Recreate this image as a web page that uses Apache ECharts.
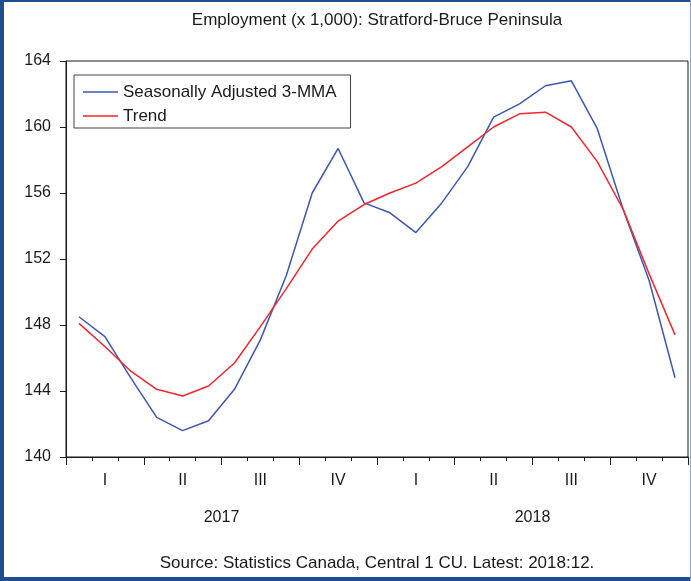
<!DOCTYPE html>
<html>
<head>
<meta charset="utf-8">
<title>Employment: Stratford-Bruce Peninsula</title>
<script src="https://cdn.jsdelivr.net/npm/echarts@6/dist/echarts.min.js"></script>
<style>
  html, body { margin: 0; padding: 0; background: #fff; }
  #chart { width: 691px; height: 581px; }
</style>
</head>
<body>
<div id="chart"></div>
<script>
// Monthly periods, 2017:01 to 2018:12
const years = ['2017', '2018'];
const monthNums = ['01', '02', '03', '04', '05', '06', '07', '08', '09', '10', '11', '12'];
const quarterLabels = ['I', 'II', 'III', 'IV'];

// Employment, thousands
const seasonallyAdjusted3MMA = [
  148.5, 147.3, 144.8, 142.4, 141.6, 142.2, 144.1, 147.1, 151.0, 156.0, 158.7, 155.4,
  154.8, 153.6, 155.4, 157.6, 160.6, 161.4, 162.5, 162.8, 159.9, 155.0, 150.7, 144.8
];
const trend = [
  148.1, 146.7, 145.2, 144.1, 143.7, 144.3, 145.7, 147.9, 150.2, 152.6, 154.3, 155.3,
  156.0, 156.6, 157.6, 158.8, 160.0, 160.8, 160.9, 160.0, 157.9, 155.0, 151.1, 147.4
];

const yMin = 140, yMax = 164, yStep = 4;

const categories = [];
years.forEach(y => monthNums.forEach(m => categories.push(y + ':' + m)));

const FONT = '"Liberation Sans", Arial, sans-serif';
const INK = '#1a1a1a';
const FRAME = '#1f4e8f';

const chart = echarts.init(document.getElementById('chart'), null, { renderer: 'canvas' });

const gridPos = { left: 66, right: 3, top: 61, bottom: 124 };
const plotCenterX = 66 + (691 - 66 - 3) / 2;

chart.setOption({
  animation: false,
  backgroundColor: '#fff',
  grid: Object.assign({ show: true, borderColor: INK, borderWidth: 1, backgroundColor: 'transparent' }, gridPos),
  legend: {
    orient: 'vertical',
    left: 74,
    top: 75,
    padding: [8, 14, 3, 9],
    itemGap: 6,
    itemWidth: 35,
    itemHeight: 1.5,
    icon: 'rect',
    borderColor: '#444',
    borderWidth: 1,
    backgroundColor: '#fff',
    textStyle: { fontFamily: FONT, fontSize: 17, color: INK, lineHeight: 18 },
    data: ['Seasonally Adjusted 3-MMA', 'Trend']
  },
  xAxis: [
    {
      // month axis: short ticks each month, quarter names under the middle month
      type: 'category',
      data: categories,
      boundaryGap: true,
      axisLine: { show: true, lineStyle: { color: INK, width: 1 } },
      axisTick: { show: true, interval: 0, length: 4, lineStyle: { color: INK } },
      axisLabel: {
        interval: (i) => i % 3 === 1,
        formatter: (v, i) => quarterLabels[Math.floor((i % 12) / 3)],
        fontFamily: FONT, fontSize: 16, color: INK, margin: 16
      },
      splitLine: { show: false }
    },
    {
      // quarter boundaries: longer ticks
      type: 'category',
      data: categories,
      boundaryGap: true,
      position: 'bottom',
      axisLine: { show: false },
      axisTick: { show: true, interval: (i) => i % 3 === 0, length: 8, lineStyle: { color: INK } },
      axisLabel: { show: false },
      splitLine: { show: false }
    },
    {
      // year labels centred under each year
      type: 'value',
      min: 0,
      max: years.length * 12,
      interval: 6,
      position: 'bottom',
      axisLine: { show: false },
      axisTick: { show: false },
      splitLine: { show: false },
      axisLabel: {
        formatter: (v) => (v % 12 === 6 ? years[(v - 6) / 12] : ''),
        fontFamily: FONT, fontSize: 16, color: INK, margin: 53
      }
    }
  ],
  yAxis: {
    type: 'value',
    min: yMin,
    max: yMax,
    interval: yStep,
    axisLine: { show: true, lineStyle: { color: INK, width: 1 } },
    axisTick: { show: true, length: 6, lineStyle: { color: INK } },
    axisLabel: { fontFamily: FONT, fontSize: 16, color: INK, margin: 15 },
    splitLine: { show: false }
  },
  series: [
    {
      name: 'Seasonally Adjusted 3-MMA',
      type: 'line',
      xAxisIndex: 0,
      data: seasonallyAdjusted3MMA,
      color: '#3b58b4',
      symbol: 'none',
      lineStyle: { width: 1.5, color: '#3b58b4' },
      z: 3
    },
    {
      name: 'Trend',
      type: 'line',
      xAxisIndex: 0,
      data: trend,
      color: '#f2262e',
      symbol: 'none',
      lineStyle: { width: 1.5, color: '#f2262e' },
      z: 4
    }
  ],
  graphic: [
    {
      type: 'text', x: plotCenterX, y: 20,
      style: {
        text: 'Employment (x 1,000): Stratford-Bruce Peninsula',
        fontFamily: FONT, fontSize: 17, fill: INK,
        textAlign: 'center', textVerticalAlign: 'middle'
      }
    },
    {
      type: 'text', x: plotCenterX, y: 563,
      style: {
        text: 'Source: Statistics Canada, Central 1 CU. Latest: 2018:12.',
        fontFamily: FONT, fontSize: 17, fill: INK,
        textAlign: 'center', textVerticalAlign: 'middle'
      }
    },
    // page frame
    { type: 'rect', shape: { x: 0, y: 0, width: 691, height: 2 }, style: { fill: FRAME }, silent: true },
    { type: 'rect', shape: { x: 0, y: 0, width: 4, height: 581 }, style: { fill: FRAME }, silent: true },
    { type: 'rect', shape: { x: 0, y: 577, width: 691, height: 4 }, style: { fill: FRAME }, silent: true },
    { type: 'rect', shape: { x: 690, y: 0, width: 1, height: 581 }, style: { fill: '#8aa2cf' }, silent: true }
  ]
});
</script>
</body>
</html>
